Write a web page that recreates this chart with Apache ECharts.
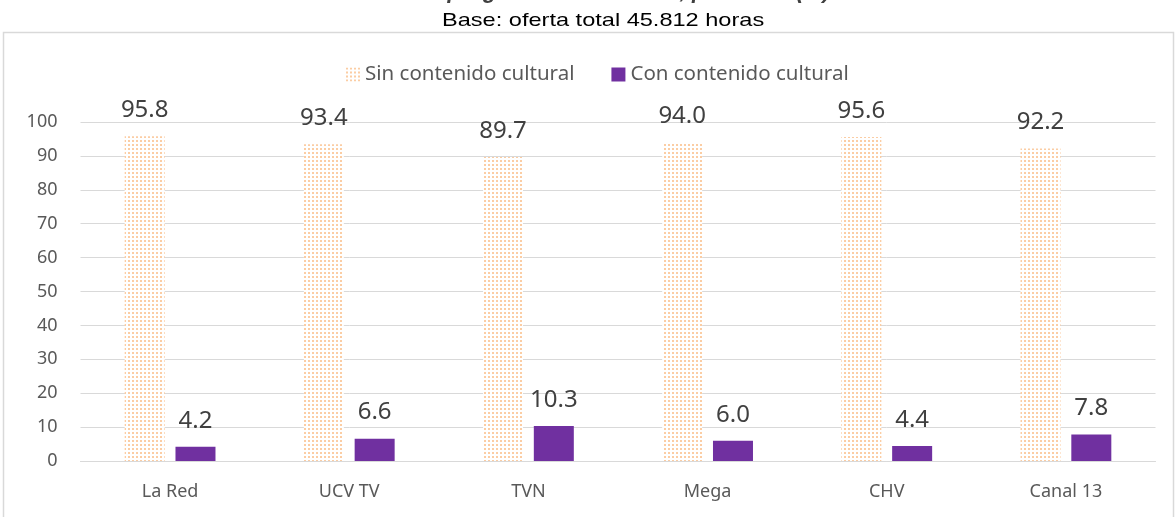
<!DOCTYPE html>
<html lang="es">
  <head>
    <meta charset="UTF-8" />
    <title>Oferta por canal</title>
    <script src="https://cdn.jsdelivr.net/npm/echarts@6/dist/echarts.min.js"></script>
  </head>
  <style>
    html,
    body {
      margin: 0;
      padding: 0;
      background: #fff;
    }
    #echart {
      width: 1175px;
      height: 517px;
    }
  </style>
  <body>
    <div id="echart"></div>
  </body>
  <script>
    const canales = ["La Red", "UCV TV", "TVN", "Mega", "CHV", "Canal 13"];
    const sinCultural = [95.8, 93.4, 89.7, 94.0, 95.6, 92.2];
    const conCultural = [4.2, 6.6, 10.3, 6.0, 4.4, 7.8];

    // dotted fill for the "sin contenido" bars
    const dots = document.createElement("canvas");
    dots.width = 4;
    dots.height = 4;
    const ctx = dots.getContext("2d");
    ctx.fillStyle = "#fff";
    ctx.fillRect(0, 0, 4, 4);
    ctx.fillStyle = "#FBCDA4";
    ctx.fillRect(0, 0, 2, 2);

    const chart = echarts.init(document.getElementById("echart"));
    const font = "Noto Sans";

    const option = {
      animation: false,
      title: {
        text: "Oferta de programación cultural, por canal (%)",
        left: "center",
        top: -24,
        textStyle: {
          fontFamily: "Liberation Sans",
          fontSize: 22,
          fontStyle: "italic",
          fontWeight: "bold",
          color: "#404040",
        },
      },
      graphic: [
        {
          type: "text",
          x: 442,
          y: 11,
          scaleX: 1.24,
          style: {
            text: "Base: oferta total 45.812 horas",
            fontFamily: "Liberation Sans",
            fontSize: 19,
            fill: "#000",
          },
          silent: true,
        },
        {
          type: "rect",
          shape: { x: 3.5, y: 32.5, width: 1170, height: 500 },
          style: { fill: "none", stroke: "#D9D9D9", lineWidth: 1.5 },
          silent: true,
        },
      ],
      legend: {
        top: 59,
        left: 341,
        itemWidth: 14,
        itemHeight: 14,
        itemGap: 37,
        textStyle: { fontFamily: font, fontSize: 20.5, color: "#595959" },
        data: [
          { name: "Sin contenido cultural", icon: "rect" },
          { name: "Con contenido cultural", icon: "rect" },
        ],
      },
      grid: {
        left: 80.5,
        right: 19.5,
        top: 122,
        bottom: 56,
      },
      xAxis: {
        type: "category",
        data: canales,
        axisTick: { show: false },
        axisLine: { lineStyle: { color: "#D9D9D9", width: 1 } },
        axisLabel: {
          fontFamily: font,
          fontSize: 18,
          color: "#595959",
          margin: 22,
        },
      },
      yAxis: {
        type: "value",
        min: 0,
        max: 100,
        interval: 10,
        axisLine: { show: false },
        axisTick: { show: false },
        splitLine: { lineStyle: { color: "#D9D9D9", width: 1 } },
        axisLabel: {
          fontFamily: font,
          fontSize: 18,
          color: "#595959",
          margin: 23,
        },
      },
      series: [
        {
          name: "Sin contenido cultural",
          type: "bar",
          barWidth: 40,
          barGap: "27%",
          data: sinCultural,
          itemStyle: { color: { image: dots, repeat: "repeat" } },
          label: {
            show: true,
            position: "top",
            distance: 14,
            formatter: (p) => p.value.toFixed(1),
            fontFamily: font,
            fontSize: 24,
            color: "#404040",
          },
        },
        {
          name: "Con contenido cultural",
          type: "bar",
          barWidth: 40,
          data: conCultural,
          itemStyle: { color: "#7030A0" },
          label: {
            show: true,
            position: "top",
            distance: 14,
            formatter: (p) => p.value.toFixed(1),
            fontFamily: font,
            fontSize: 24,
            color: "#404040",
          },
        },
      ],
    };

    chart.setOption(option);
  </script>
</html>
